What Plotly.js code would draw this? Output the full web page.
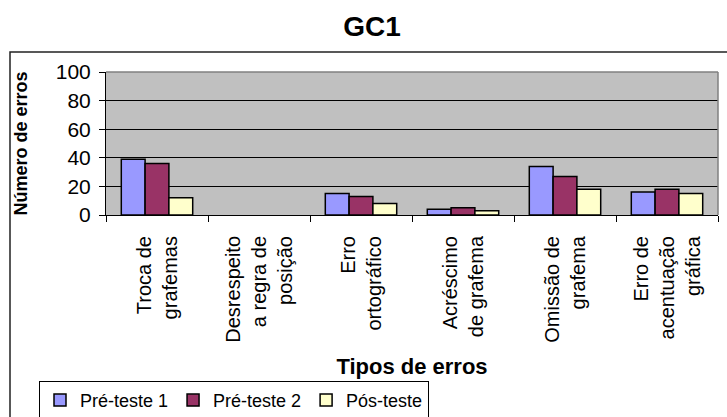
<!DOCTYPE html>
<html>
<head>
<meta charset="utf-8">
<script src="https://cdn.plot.ly/plotly-3.0.1.min.js"></script>
<style>html,body{margin:0;padding:0;background:#fff;}#chart{width:727px;height:417px;}</style>
</head>
<body>
<div id="chart"></div>
<script>
var categories = [
  "Troca de<br>grafemas",
  "Desrespeito<br>a regra de<br>posição",
  "Erro<br>ortográfico",
  "Acréscimo<br>de grafema",
  "Omissão de<br>grafema",
  "Erro de<br>acentuação<br>gráfica"
];
var preTeste1 = [39, 0, 15, 4, 34, 16];
var preTeste2 = [36, 0, 13, 5, 27, 18];
var posTeste  = [12, 0, 8, 3, 18, 15];
var seriesNames = ["Pré-teste 1", "Pré-teste 2", "Pós-teste"];
var yTicks = [0, 20, 40, 60, 80, 100];

var FONT = "Liberation Sans, Arial, sans-serif";
var colors = ["#9999FF", "#993366", "#FFFFCC"];
var allSeries = [preTeste1, preTeste2, posTeste];

var traces = allSeries.map(function (vals, i) {
  return {
    type: "bar",
    name: seriesNames[i],
    x: categories,
    y: vals,
    marker: {color: colors[i],
             line: {color: "#000", width: vals.map(function (v) { return v === 0 ? 0 : 1.5; })}},
    hoverinfo: "skip"
  };
});

// plot area: left 106, right 718, top 72, bottom 215.5
var L = 106, R = 9, T = 72, B = 201.5;
var pw = 727 - L - R, ph = 417 - T - B;
function px(x) { return (x - L) / pw; }
function py(y) { return (417 - B - y) / ph; }

var layout = {
  width: 727, height: 417,
  margin: {l: L, r: R, t: T, b: B, pad: 0, autoexpand: false},
  paper_bgcolor: "#FFFFFF",
  plot_bgcolor: "#C0C0C0",
  font: {family: FONT, color: "#000", size: 19},
  title: {text: "<b>GC1</b>", font: {family: FONT, size: 28, color: "#000"},
          x: 372 / 727, xanchor: "center", y: 1 - 26 / 417, yanchor: "middle", xref: "container", yref: "container"},
  barmode: "group",
  bargap: 0.3,
  bargroupgap: 0,
  showlegend: true,
  legend: {
    orientation: "h",
    x: px(39), xanchor: "left",
    y: py(382), yanchor: "top",
    bordercolor: "#000", borderwidth: 1,
    bgcolor: "#FFFFFF",
    font: {family: FONT, size: 18, color: "#000"},
    traceorder: "normal",
    itemwidth: 30
  },
  xaxis: {
    type: "category",
    tickson: "boundaries",
    ticks: "outside", ticklen: 6, tickcolor: "#000", tickwidth: 1,
    showline: true, linecolor: "#000", linewidth: 1,
    showgrid: false, zeroline: false,
    tickangle: -90,
    ticklabelstandoff: 12,
    tickfont: {family: FONT, size: 20, color: "#000"},
    automargin: false,
    title: {text: "<b>Tipos de erros</b>", font: {family: FONT, size: 22, color: "#000"}, standoff: 16}
  },
  yaxis: {
    range: [0, 100],
    tickvals: yTicks,
    ticks: "outside", ticklen: 6, tickcolor: "#000", tickwidth: 1,
    showline: true, linecolor: "#000", linewidth: 1,
    showgrid: true, gridcolor: "#000", gridwidth: 1,
    zeroline: false,
    ticklabelstandoff: 4,
    tickfont: {family: FONT, size: 21, color: "#000"},
    automargin: false,
    title: {text: "<b>Número de erros</b>", font: {family: FONT, size: 18, color: "#000"}, standoff: 23}
  },
  shapes: [
    {type: "rect", xref: "paper", yref: "paper",
     x0: px(10), x1: px(780), y0: py(480), y1: py(52),
     line: {color: "#222", width: 1.5}, fillcolor: "rgba(0,0,0,0)", layer: "below"},
    {type: "line", xref: "paper", yref: "paper", x0: 0, x1: 1, y0: 1, y1: 1,
     line: {color: "#808080", width: 1.5}},
    {type: "line", xref: "paper", yref: "paper", x0: 1, x1: 1, y0: 0, y1: 1,
     line: {color: "#808080", width: 1.5}}
  ]
};

Plotly.newPlot("chart", traces, layout, {displayModeBar: false, staticPlot: true});
</script>
</body>
</html>
